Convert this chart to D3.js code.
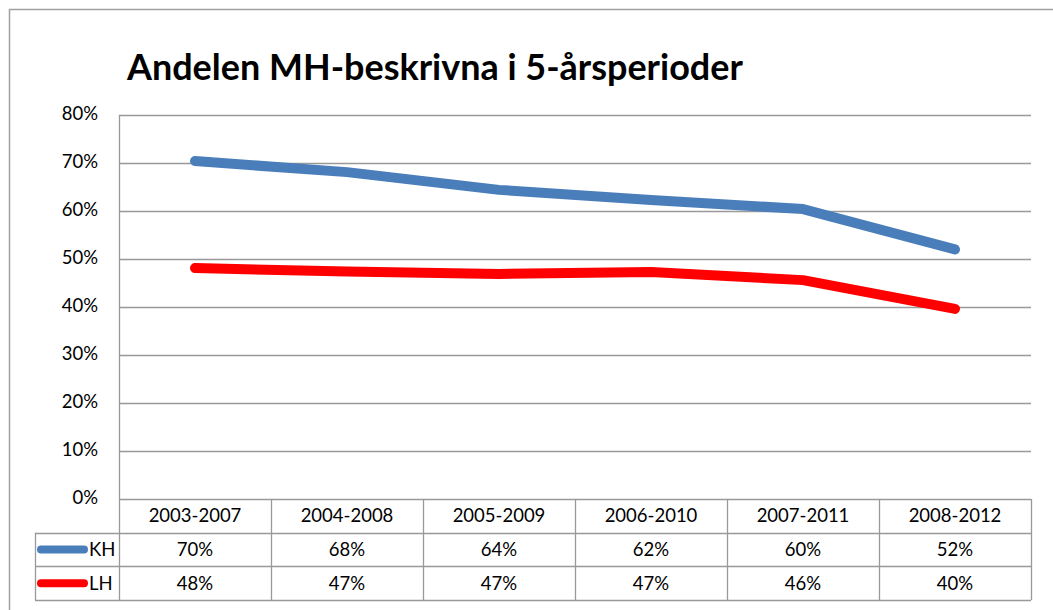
<!DOCTYPE html>
<html>
<head>
<meta charset="utf-8">
<script src="https://cdn.jsdelivr.net/npm/d3@7"></script>
<style>
  body { margin: 0; background: #fff; }
  text { font-family: Lato, "Open Sans", sans-serif; fill: #000; }
</style>
</head>
<body>
<div id="chart"></div>
<script>
// data
var periods = ["2003-2007", "2004-2008", "2005-2009", "2006-2010", "2007-2011", "2008-2012"];
var khValues = [0.704, 0.681, 0.644, 0.623, 0.604, 0.520];
var lhValues = [0.481, 0.474, 0.469, 0.473, 0.456, 0.396];
var yTicks = [0, 0.1, 0.2, 0.3, 0.4, 0.5, 0.6, 0.7, 0.8];

var series = [
  { name: "KH", values: khValues, color: "#4a7ebb" },
  { name: "LH", values: lhValues, color: "#ff0000" }
];

var svgWidth = 1053;
var svgHeight = 610;

var plot = { left: 119, right: 1031, top: 115, bottom: 499 };
var rowH = 33.7;
var tableLeft = 35;
var gridColor = "#999";
var fontSize = 18.5;

var svg = d3.select("#chart")
  .append("svg")
  .attr("width", svgWidth)
  .attr("height", svgHeight);

svg.append("rect")
  .attr("width", svgWidth)
  .attr("height", svgHeight)
  .attr("fill", "#fff");

// outer chart frame (only top and left are in view)
svg.append("path")
  .attr("d", "M9.5," + svgHeight + "V9.5H" + svgWidth)
  .attr("fill", "none")
  .attr("stroke", "#a0a0a0")
  .attr("stroke-width", 1.5);

// title
var title = svg.append("text")
  .attr("x", 127)
  .attr("y", 80)
  .attr("font-weight", "bold")
  .attr("font-size", 32)
  .text("Andelen MH-beskrivna i 5-årsperioder");
// fit to the width seen in the picture
var tw = title.node().getComputedTextLength();
title.attr("font-size", 32 * 616 / tw);

// scales
var x = d3.scaleBand()
  .domain(periods)
  .range([plot.left, plot.right]);

var y = d3.scaleLinear()
  .domain([0, 0.8])
  .range([plot.bottom, plot.top]);

// gridlines
svg.append("g")
  .selectAll("line")
  .data(yTicks.slice(1))
  .enter()
  .append("line")
  .attr("x1", plot.left)
  .attr("x2", plot.right)
  .attr("y1", d => Math.round(y(d)) + 0.5)
  .attr("y2", d => Math.round(y(d)) + 0.5)
  .attr("stroke", gridColor)
  .attr("stroke-width", 1.3);

// y axis line
svg.append("line")
  .attr("x1", plot.left + 0.5)
  .attr("x2", plot.left + 0.5)
  .attr("y1", plot.top)
  .attr("y2", plot.bottom)
  .attr("stroke", gridColor)
  .attr("stroke-width", 1.3);

// y tick labels
var pct = d3.format(".0%");
svg.append("g")
  .selectAll("text")
  .data(yTicks)
  .enter()
  .append("text")
  .attr("x", 98)
  .attr("y", d => y(d) - 1)
  .attr("dy", "0.35em")
  .attr("text-anchor", "end")
  .attr("font-size", fontSize)
  .text(d => pct(d));

// data table
var rowY = [plot.bottom, plot.bottom + rowH, plot.bottom + 2 * rowH, plot.bottom + 3 * rowH];
var table = svg.append("g")
  .attr("stroke", gridColor)
  .attr("stroke-width", 1.3);

table.append("line")
  .attr("x1", plot.left).attr("x2", plot.right)
  .attr("y1", rowY[0] + 0.5).attr("y2", rowY[0] + 0.5);

rowY.slice(1).forEach(function(ry) {
  table.append("line")
    .attr("x1", tableLeft).attr("x2", plot.right)
    .attr("y1", Math.round(ry) + 0.5).attr("y2", Math.round(ry) + 0.5);
});

var colEdges = periods.map(p => x(p)).concat([plot.right]);
colEdges.forEach(function(cx) {
  table.append("line")
    .attr("x1", Math.round(cx) + 0.5).attr("x2", Math.round(cx) + 0.5)
    .attr("y1", rowY[0]).attr("y2", rowY[3]);
});

table.append("line")
  .attr("x1", tableLeft + 0.5).attr("x2", tableLeft + 0.5)
  .attr("y1", rowY[1]).attr("y2", rowY[3]);

// header row
svg.append("g")
  .selectAll("text")
  .data(periods)
  .enter()
  .append("text")
  .attr("x", d => x(d) + x.bandwidth() / 2)
  .attr("y", (rowY[0] + rowY[1]) / 2)
  .attr("dy", "0.35em")
  .attr("text-anchor", "middle")
  .attr("font-size", fontSize)
  .text(d => d);

// series rows with legend keys
series.forEach(function(s, i) {
  var cy = (rowY[i + 1] + rowY[i + 2]) / 2;

  svg.append("g")
    .selectAll("text")
    .data(s.values)
    .enter()
    .append("text")
    .attr("x", (d, j) => x(periods[j]) + x.bandwidth() / 2)
    .attr("y", cy)
    .attr("dy", "0.35em")
    .attr("text-anchor", "middle")
    .attr("font-size", fontSize)
    .text(d => pct(d));

  svg.append("line")
    .attr("x1", 41)
    .attr("x2", 84)
    .attr("y1", cy)
    .attr("y2", cy)
    .attr("stroke", s.color)
    .attr("stroke-width", 8)
    .attr("stroke-linecap", "round");

  svg.append("text")
    .attr("x", 89)
    .attr("y", cy)
    .attr("dy", "0.35em")
    .attr("font-size", fontSize)
    .text(s.name);
});

// lines
var line = d3.line()
  .x((d, j) => x(periods[j]) + x.bandwidth() / 2)
  .y(d => y(d));

svg.append("g")
  .selectAll("path")
  .data(series)
  .enter()
  .append("path")
  .attr("d", d => line(d.values))
  .attr("fill", "none")
  .attr("stroke", d => d.color)
  .attr("stroke-width", 10)
  .attr("stroke-linecap", "round")
  .attr("stroke-linejoin", "round");
</script>
</body>
</html>
